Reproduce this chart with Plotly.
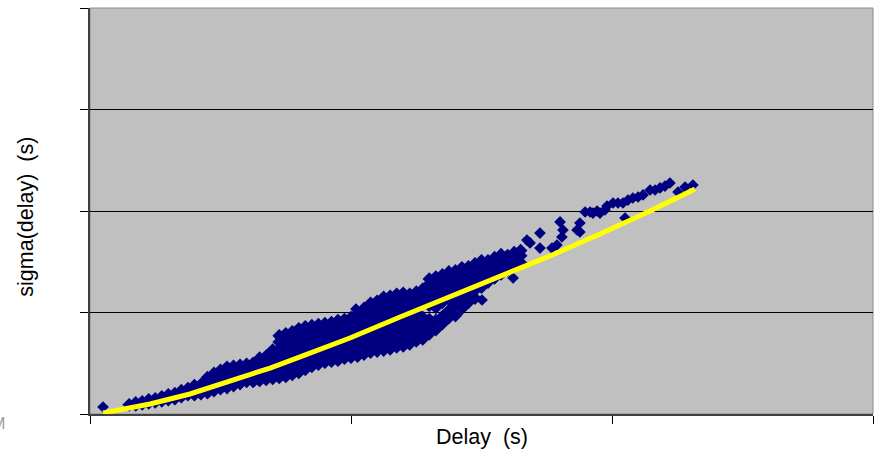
import plotly.graph_objects as go

# ---- data (x: delay, y: sigma(delay)) ----
# dense band, read column by column
col_delay = [0.15, 0.175, 0.20, 0.225, 0.25, 0.275, 0.30, 0.325, 0.35, 0.375,
             0.40, 0.425, 0.45, 0.475, 0.50, 0.525, 0.55, 0.575, 0.60, 0.625,
             0.65, 0.675, 0.70, 0.725, 0.75, 0.775, 0.80, 0.825, 0.85, 0.875,
             0.90, 0.925, 0.95, 0.975, 1.00, 1.025, 1.05, 1.075, 1.10, 1.125,
             1.15, 1.175, 1.20, 1.225, 1.25, 1.275, 1.30, 1.325, 1.35, 1.375,
             1.40, 1.425, 1.45, 1.475, 1.50, 1.525, 1.55, 1.575, 1.60, 1.625,
             1.65]
col_sigma = [
    [0.09], [0.09, 0.11], [0.10, 0.12], [0.11, 0.14], [0.12, 0.15],
    [0.13, 0.17], [0.14, 0.19], [0.15, 0.20], [0.17, 0.23], [0.19, 0.25],
    [0.19, 0.24, 0.28], [0.20, 0.25, 0.29], [0.21, 0.27, 0.33, 0.36],
    [0.23, 0.29, 0.35, 0.40], [0.25, 0.31, 0.37, 0.43], [0.26, 0.32, 0.39, 0.46],
    [0.28, 0.34, 0.41, 0.47], [0.30, 0.36, 0.42, 0.48], [0.32, 0.38, 0.44, 0.49],
    [0.32, 0.38, 0.44, 0.50], [0.33, 0.40, 0.47, 0.55], [0.34, 0.41, 0.48, 0.54, 0.57],
    [0.35, 0.42, 0.49, 0.56, 0.63],
    [0.36, 0.43, 0.50, 0.57, 0.64, 0.71, 0.77],
    [0.37, 0.44, 0.51, 0.58, 0.65, 0.72, 0.79],
    [0.39, 0.46, 0.53, 0.60, 0.67, 0.74, 0.81],
    [0.41, 0.48, 0.55, 0.62, 0.69, 0.76, 0.84],
    [0.44, 0.51, 0.58, 0.65, 0.72, 0.79, 0.86],
    [0.47, 0.54, 0.61, 0.68, 0.75, 0.82, 0.87],
    [0.49, 0.56, 0.63, 0.70, 0.77, 0.84, 0.88],
    [0.51, 0.58, 0.65, 0.72, 0.79, 0.86, 0.89],
    [0.52, 0.59, 0.66, 0.73, 0.80, 0.87, 0.90],
    [0.53, 0.60, 0.67, 0.74, 0.81, 0.88, 0.92],
    [0.55, 0.62, 0.69, 0.76, 0.83, 0.90, 0.93],
    [0.56, 0.63, 0.70, 0.77, 0.84, 0.91, 0.95],
    [0.57, 0.64, 0.71, 0.78, 0.85, 0.92, 0.99],
    [0.59, 0.66, 0.73, 0.80, 0.87, 0.94, 1.01, 1.04],
    [0.61, 0.68, 0.75, 0.82, 0.89, 0.96, 1.03, 1.09],
    [0.62, 0.69, 0.76, 0.83, 0.90, 0.97, 1.04, 1.11],
    [0.63, 0.70, 0.77, 0.84, 0.91, 0.98, 1.05, 1.12, 1.15],
    [0.64, 0.71, 0.78, 0.85, 0.92, 0.99, 1.06, 1.13, 1.16],
    [0.66, 0.73, 0.80, 0.87, 0.94, 1.01, 1.08, 1.15, 1.18],
    [0.67, 0.74, 0.81, 0.88, 0.95, 1.02, 1.09, 1.16, 1.19],
    [0.69, 0.76, 0.83, 0.90, 0.97, 1.04, 1.11, 1.18],
    [0.72, 0.79, 0.86, 0.93, 1.00, 1.07, 1.14, 1.20],
    [0.74, 0.80, 0.88, 0.95, 1.09, 1.16, 1.23],
    [0.79, 0.86, 0.93, 1.07, 1.14, 1.21, 1.28, 1.33],
    [0.83, 0.92, 1.05, 1.12, 1.19, 1.26, 1.35],
    [0.89, 0.96, 1.10, 1.17, 1.24, 1.31, 1.37],
    [0.95, 1.02, 1.13, 1.20, 1.27, 1.34, 1.40],
    [0.97, 1.07, 1.15, 1.22, 1.29, 1.36, 1.41],
    [1.04, 1.12, 1.19, 1.26, 1.33, 1.40, 1.44],
    [1.10, 1.17, 1.24, 1.31, 1.38, 1.45],
    [1.14, 1.22, 1.29, 1.36, 1.43, 1.48],
    [1.25, 1.32, 1.39, 1.46, 1.51],
    [1.30, 1.37, 1.44, 1.51],
    [1.34, 1.41, 1.48, 1.54],
    [1.38, 1.45, 1.52, 1.57],
    [1.42, 1.49, 1.56],
    [1.46, 1.53, 1.59],
    [1.49, 1.56, 1.61],
]

# isolated / sparse points
sparse_delay = [0.050, 1.019, 1.303, 1.352, 1.502, 1.621,
                1.590, 1.636, 1.648, 1.674, 1.686, 1.724, 1.724, 1.770, 1.789,
                1.801, 1.808, 1.812, 1.866, 1.877, 1.877, 1.897, 1.916, 1.927,
                1.943, 1.954, 1.973, 1.981, 2.004, 2.023, 2.042, 2.050, 2.061,
                2.080, 2.100, 2.119, 2.146, 2.165, 2.184, 2.203, 2.222, 2.253,
                2.280, 2.310]
sparse_sigma = [0.069, 1.034, 0.798, 0.946, 1.123, 1.340,
                1.547, 1.586, 1.498, 1.714, 1.685, 1.783, 1.635, 1.635, 1.665,
                1.892, 1.744, 1.813, 1.813, 1.882, 1.793, 1.990, 1.990, 1.980,
                2.000, 1.980, 2.010, 2.049, 2.079, 2.079, 2.079, 1.931, 2.108,
                2.128, 2.138, 2.158, 2.207, 2.207, 2.227, 2.246, 2.276, 2.187,
                2.236, 2.256]

# yellow trend line
trend_delay = [0.050, 0.230, 0.383, 0.536, 0.690, 0.805, 0.996, 1.188,
               1.379, 1.571, 1.762, 1.954, 2.146, 2.318]
trend_sigma = [0.010, 0.099, 0.197, 0.320, 0.453, 0.562, 0.749, 0.956,
               1.153, 1.350, 1.557, 1.773, 2.000, 2.217]

x_ticks = [0, 1, 2, 3]
y_ticks = [0, 1, 2, 3, 4]
x_title = "Delay\u00a0\u00a0(s)"
y_title = "sigma(delay)\u00a0\u00a0(s)"

# ---- build flat series ----
band_delay, band_sigma = [], []
for d, ys in zip(col_delay, col_sigma):
    for s in ys:
        band_delay.append(d)
        band_sigma.append(s)

NAVY = "#000080"
fig = go.Figure()
fig.add_trace(go.Scatter(
    x=band_delay, y=band_sigma, mode="markers",
    marker=dict(symbol="diamond", size=10.5, color=NAVY, line=dict(width=0)),
    showlegend=False, hoverinfo="skip"))
fig.add_trace(go.Scatter(
    x=sparse_delay, y=sparse_sigma, mode="markers",
    marker=dict(symbol="diamond", size=9, color=NAVY, line=dict(width=0)),
    showlegend=False, hoverinfo="skip"))
fig.add_trace(go.Scatter(
    x=trend_delay, y=trend_sigma, mode="lines",
    line=dict(color="#FFFF00", width=5),
    showlegend=False, hoverinfo="skip"))

font_family = "Liberation Sans, Arial, sans-serif"
fig.update_layout(
    width=874, height=451,
    margin=dict(l=90, r=1, t=8, b=37),
    paper_bgcolor="white", plot_bgcolor="#C0C0C0",
    font=dict(family=font_family, color="black"),
    xaxis=dict(range=[0, 3], tickvals=x_ticks, showticklabels=False,
               ticks="outside", ticklen=8, tickcolor="black", tickwidth=1,
               showgrid=False, zeroline=False, showline=True,
               linecolor="#404040", linewidth=2, automargin=False),
    yaxis=dict(range=[0, 4], tickvals=y_ticks, showticklabels=False,
               ticks="outside", ticklen=8, tickcolor="black", tickwidth=1,
               showgrid=True, gridcolor="black", gridwidth=1,
               zeroline=False, showline=True, linecolor="#404040", linewidth=2,
               automargin=False),
    shapes=[dict(type="rect", xref="paper", yref="paper", x0=0, y0=0, x1=1, y1=1,
                 line=dict(color="#8A8A8A", width=1), layer="below")],
    annotations=[
        dict(text=x_title, xref="paper", yref="paper", x=0.5, y=-0.057,
             xanchor="center", yanchor="middle", showarrow=False,
             font=dict(size=21.5, family=font_family, color="black")),
        dict(text=y_title, xref="paper", yref="paper", x=-0.081, y=0.485,
             xanchor="center", yanchor="middle", textangle=-90, showarrow=False,
             font=dict(size=21.5, family=font_family, color="black")),
        dict(text="M<br>I", xref="paper", yref="paper", x=-0.106, y=-0.05,
             xanchor="right", yanchor="middle", showarrow=False,
             font=dict(size=16, family=font_family, color="#999999")),
    ],
)

fig.write_html("out.html",
               config={"displayModeBar": False},
               post_script="document.body.style.margin='0px';"
                           "document.body.style.padding='0px';")
